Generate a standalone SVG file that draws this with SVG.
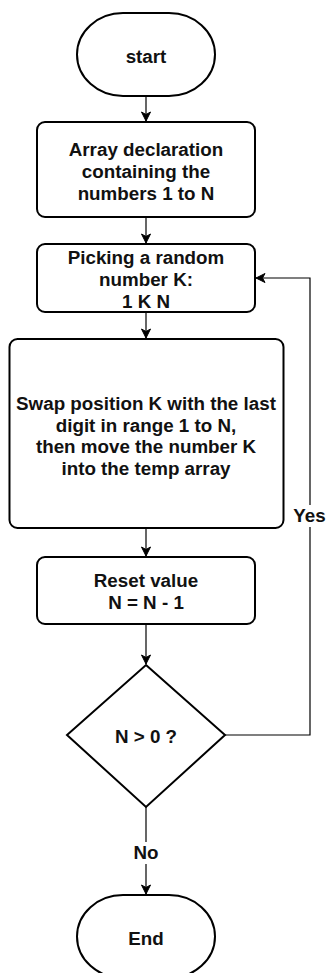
<svg xmlns="http://www.w3.org/2000/svg" width="327" height="973" viewBox="0 0 327 973">
<style>
.shape{fill:#fff;stroke:#000;stroke-width:2}
.conn{fill:none;stroke:#000;stroke-width:1.2}
text{font-family:"Liberation Sans",Arial,sans-serif;font-weight:bold;font-size:18.8px;fill:#111;text-anchor:middle}
.lbl{fill:#fff;stroke:none}
</style>
<defs>
<marker id="arr" markerUnits="userSpaceOnUse" markerWidth="12" markerHeight="12" viewBox="0 0 12 12" refX="10" refY="6" orient="auto">
<path d="M1,1.5 L10,6 L1,10.5 L3.5,6 Z" fill="#000" stroke="#000" stroke-width="1"/>
</marker>
</defs>
<g id="connectors">
<line class="conn" x1="146" y1="96" x2="146" y2="121" marker-end="url(#arr)"/>
<line class="conn" x1="146" y1="217" x2="146" y2="243" marker-end="url(#arr)"/>
<line class="conn" x1="146" y1="312" x2="146" y2="338" marker-end="url(#arr)"/>
<line class="conn" x1="146" y1="528" x2="146" y2="556" marker-end="url(#arr)"/>
<line class="conn" x1="146" y1="624" x2="146" y2="664" marker-end="url(#arr)"/>
<line class="conn" x1="146" y1="807" x2="146" y2="894" marker-end="url(#arr)"/>
<polyline class="conn" points="225,735 310,735 310,278 256,278" marker-end="url(#arr)"/>
<rect class="lbl" x="292" y="505" width="35" height="22"/>
<text x="309.5" y="522">Yes</text>
<rect class="lbl" x="130" y="842" width="32" height="22"/>
<text x="146" y="859">No</text>
</g>
<g id="start">
<path class="shape" d="M123,13 L169,13 A46,41.5 0 0 1 169,96 L123,96 A46,41.5 0 0 1 123,13 Z"/>
<text x="146" y="62.5">start</text>
</g>
<g id="array">
<rect class="shape" x="37" y="122" width="218" height="95" rx="8"/>
<text x="146" y="156">Array declaration</text>
<text x="146" y="178">containing the</text>
<text x="146" y="200">numbers 1 to N</text>
</g>
<g id="pick">
<rect class="shape" x="37" y="244" width="218" height="68" rx="8"/>
<text x="146" y="264">Picking a random</text>
<text x="146" y="286">number K:</text>
<text x="146" y="308">1 K N</text>
</g>
<g id="swap">
<rect class="shape" x="9.5" y="339" width="274" height="189" rx="8"/>
<text x="146" y="410">Swap position K with the last</text>
<text x="146" y="431.5">digit in range 1 to N,</text>
<text x="146" y="453">then move the number K</text>
<text x="146" y="474.5">into the temp array</text>
</g>
<g id="reset">
<rect class="shape" x="37" y="557" width="218" height="67" rx="8"/>
<text x="146" y="587">Reset value</text>
<text x="146" y="608.5">N = N - 1</text>
</g>
<g id="decision">
<polygon class="shape" points="146,665 225,735 146,807 67,735"/>
<text x="146" y="743">N &gt; 0 ?</text>
</g>
<g id="end">
<path class="shape" d="M123,895 L169,895 A46,41.5 0 0 1 169,978 L123,978 A46,41.5 0 0 1 123,895 Z"/>
<text x="146" y="945">End</text>
</g>
</svg>
